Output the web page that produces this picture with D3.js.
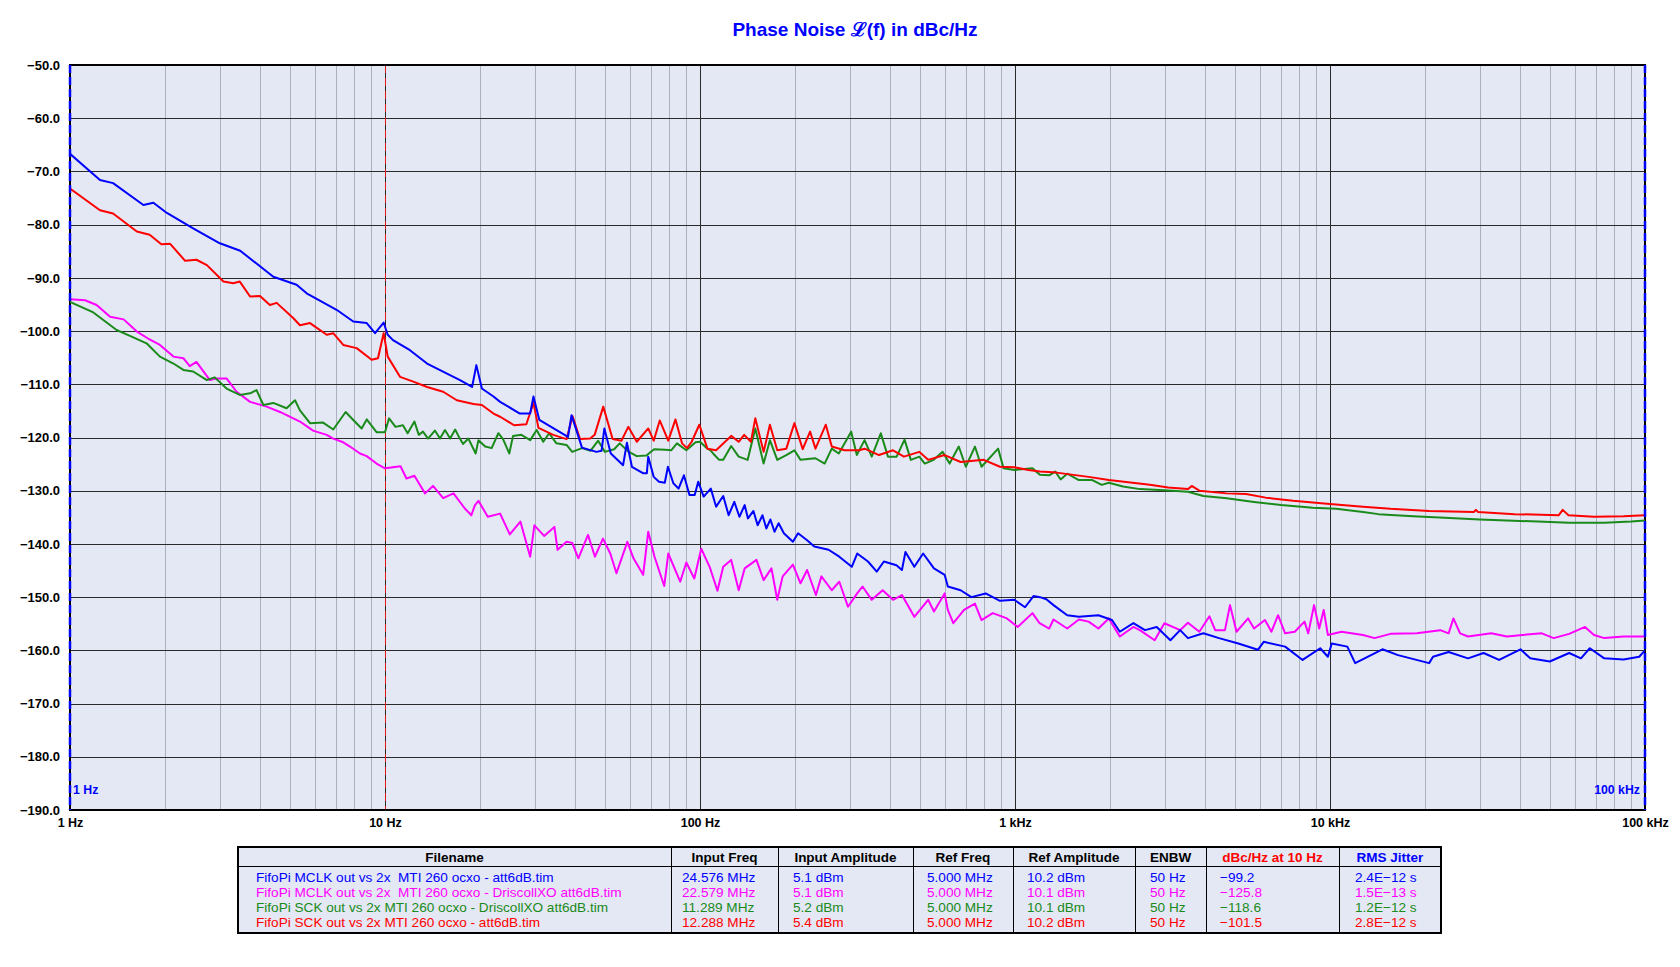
<!DOCTYPE html>
<html><head><meta charset="utf-8">
<script src="https://cdn.jsdelivr.net/npm/d3@7"></script>
<style>
html,body{margin:0;padding:0;background:#fff;}
svg{display:block;font-family:"Liberation Sans",Arial,Helvetica,sans-serif;}
</style></head><body>
<svg id="c" width="1680" height="967"></svg>
<script>
// ---------------- DATA ----------------
const titleText = "Phase Noise \u2112(f) in dBc/Hz";
const yTicks = [-50,-60,-70,-80,-90,-100,-110,-120,-130,-140,-150,-160,-170,-180,-190];
const xTicks = [1,10,100,1000,10000,100000];
const xTickLabels = ["1 Hz","10 Hz","100 Hz","1 kHz","10 kHz","100 kHz"];
const seriesColors = ["#0000ff","#ff00ff","#1a8a1a","#ff0000"];

// [frequency Hz, dBc/Hz]
const mclkAtt = [[1,-66.7],[1.245,-71.6],[1.37,-72.2],[1.71,-76.3],[1.84,-75.9],[2.03,-77.8],[2.46,-80.7],[2.99,-83.5],[3.47,-84.9],[4.42,-89.8],[5.24,-91.3],[5.64,-92.9],[7.02,-96.0],[7.93,-98.2],[8.75,-98.5],[9.3,-100.4],[9.9,-98.4],[10.2,-100.7],[10.6,-101.7],[12.0,-103.6],[13.6,-106.1],[17.3,-109.2],[18.9,-110.5],[19.5,-106.4],[20.3,-110.8],[22.1,-112.3],[23.2,-113.3],[26.8,-115.5],[28.9,-115.5],[29.6,-112.3],[30.9,-116.7],[34.3,-118.3],[38.1,-119.9],[39.1,-115.8],[42.2,-121.9],[46.9,-122.7],[48.7,-122.5],[49.7,-118.3],[52.1,-123.0],[57.0,-125.2],[58.6,-121.0],[60.8,-125.5],[65.9,-126.7],[67.8,-126.7],[68.5,-123.6],[71.3,-127.4],[74.1,-128.3],[77.3,-128.5],[79.1,-125.5],[82.3,-128.6],[85.5,-129.6],[88.9,-127.1],[92.6,-130.8],[96.2,-130.8],[98.7,-128.3],[102.7,-131.1],[108.2,-129.6],[112.5,-133.0],[118.5,-131.0],[123.3,-134.6],[128.5,-132.1],[133.4,-134.9],[138.6,-132.7],[142,-135.2],[147.8,-133.8],[152.4,-136.5],[157.9,-134.6],[162.4,-137.1],[167.3,-135.4],[172.4,-137.7],[177.7,-136.1],[184.6,-138.0],[197.2,-139.6],[204.8,-138.0],[218.8,-139.3],[230.6,-140.5],[256,-141.1],[276.8,-142.4],[303.3,-144.3],[315.5,-141.8],[341.4,-143.3],[364,-145.2],[383.5,-143.3],[420.4,-144.0],[437.6,-144.9],[449,-141.5],[479,-144.3],[511,-141.8],[553,-144.6],[598,-145.8],[612,-148.0],[672,-148.7],[727,-150.0],[807,-149.3],[896,-150.7],[995,-150.5],[1076,-151.9],[1145,-149.8],[1200,-150.0],[1258,-150.4],[1325,-151.5],[1465,-153.4],[1595,-153.7],[1840,-153.4],[2032,-154.3],[2151,-156.5],[2376,-154.9],[2586,-156.2],[2818,-155.6],[3114,-158.1],[3344,-156.2],[3540,-157.7],[3963,-156.8],[4443,-157.7],[5117,-158.7],[5902,-159.9],[6160,-158.4],[7203,-159.3],[8184,-161.8],[9311,-159.6],[9846,-161.2],[10130,-158.7],[11350,-159.3],[12020,-162.4],[14670,-159.8],[16440,-160.9],[20640,-162.4],[21230,-161.2],[23800,-160.3],[27420,-161.5],[30730,-160.5],[34420,-161.8],[40250,-159.8],[43230,-161.5],[49840,-162.1],[57450,-160.5],[62600,-161.5],[66800,-159.6],[74240,-161.5],[85520,-161.7],[95860,-161.2],[100000,-160.0]];

const mclkDriscoll = [[1,-94.0],[1.116,-94.2],[1.215,-95.1],[1.34,-97.3],[1.48,-97.8],[1.63,-100.1],[1.77,-101.4],[1.93,-102.6],[2.13,-104.8],[2.29,-105.1],[2.40,-106.6],[2.52,-105.8],[2.78,-109.2],[2.92,-108.9],[3.14,-108.9],[3.38,-111.4],[3.73,-113.3],[4.21,-114.2],[4.64,-115.2],[5.37,-117.0],[5.91,-118.7],[6.53,-119.5],[6.85,-120.2],[7.37,-120.9],[7.74,-121.7],[8.33,-123.0],[8.75,-123.5],[9.4,-124.9],[10.0,-125.8],[10.6,-125.6],[11.2,-125.4],[11.7,-127.7],[12.4,-127.2],[13.4,-130.5],[14.2,-129.1],[15.3,-131.4],[16.5,-130.5],[17.9,-133.3],[18.8,-134.6],[19.3,-132.7],[19.8,-131.9],[21.2,-134.9],[23.2,-134.3],[24.9,-138.2],[26.9,-135.8],[28.9,-142.4],[29.8,-136.5],[32.0,-138.5],[34.5,-136.8],[35.3,-141.1],[37.7,-139.6],[39.3,-139.8],[41.1,-142.7],[44.1,-138.3],[46.4,-142.4],[49.2,-139.0],[51.9,-141.8],[54.3,-145.5],[58.8,-139.6],[61.5,-142.7],[66.0,-145.8],[68.5,-137.7],[71.7,-142.4],[77.0,-147.9],[79.3,-141.8],[86.5,-147.1],[90.5,-143.5],[95.9,-146.5],[100.9,-140.9],[107.3,-144.3],[113.6,-148.8],[118.5,-144.3],[125.6,-143.0],[132.7,-148.7],[138.6,-144.6],[151.1,-143.0],[159.2,-146.8],[168.6,-144.6],[175.9,-150.5],[183,-146.1],[197.2,-143.9],[208.5,-147.4],[218.8,-144.9],[233.3,-149.6],[242.9,-146.1],[262,-148.7],[276.8,-147.1],[295,-151.8],[315.5,-149.3],[328,-148.0],[351,-150.5],[380,-148.7],[410,-150.5],[437.6,-149.6],[479,-153.7],[530,-150.5],[553,-152.7],[598,-149.3],[612,-152.4],[637,-154.9],[689,-152.4],[746,-151.2],[783,-154.3],[850,-153.0],[943,-154.0],[1020,-155.6],[1136,-153.0],[1197,-154.9],[1284,-155.9],[1325,-154.2],[1465,-155.9],[1595,-154.2],[1713,-154.6],[1840,-155.9],[1985,-154.0],[2151,-157.4],[2376,-155.6],[2492,-156.2],[2776,-158.1],[2980,-154.9],[3344,-156.2],[3540,-154.8],[3848,-156.5],[4143,-153.6],[4320,-156.2],[4640,-156.2],[4815,-151.5],[5050,-156.5],[5495,-154.0],[5740,-155.9],[6215,-154.3],[6520,-156.5],[6840,-153.4],[7203,-156.8],[7730,-156.5],[8300,-154.6],[8530,-156.8],[8900,-151.5],[9240,-155.9],[9550,-152.4],[9846,-157.1],[10880,-156.5],[12730,-157.1],[13850,-157.7],[15550,-156.9],[18860,-156.8],[22390,-156.2],[23800,-156.8],[24650,-154.0],[25880,-156.8],[27420,-157.4],[32490,-156.8],[36450,-157.4],[40870,-157.1],[47050,-156.8],[51300,-157.7],[57450,-156.9],[64500,-155.6],[68900,-157.1],[74240,-157.7],[85520,-157.4],[100000,-157.4]];

const sckDriscoll = [[1,-94.5],[1.186,-96.5],[1.406,-99.8],[1.55,-100.9],[1.75,-102.3],[1.93,-104.8],[2.13,-106.1],[2.29,-107.3],[2.46,-107.6],[2.72,-109.2],[2.88,-108.7],[3.14,-110.8],[3.46,-112.0],[3.73,-111.7],[3.91,-111.1],[4.11,-113.9],[4.42,-113.5],[4.87,-114.5],[5.18,-113.0],[5.37,-114.9],[5.78,-117.3],[6.36,-117.2],[6.85,-118.5],[7.5,-115.2],[7.93,-116.7],[8.43,-118.3],[8.75,-116.6],[9.4,-119.0],[10.0,-119.0],[10.3,-116.4],[10.8,-118.0],[11.4,-117.7],[11.8,-119.2],[12.4,-117.0],[12.8,-119.5],[13.2,-118.9],[13.7,-120.2],[14.4,-118.7],[14.95,-120.2],[15.5,-118.6],[16.1,-120.2],[16.7,-118.5],[17.1,-119.7],[17.7,-121.2],[18.4,-120.2],[19.4,-123.0],[19.8,-120.5],[20.8,-121.7],[21.8,-122.0],[22.9,-119.2],[23.7,-120.3],[24.8,-123.0],[25.5,-119.7],[27.1,-119.5],[28.9,-120.5],[30.3,-118.6],[31.8,-120.8],[33.2,-119.2],[35.0,-121.1],[37.7,-121.4],[39.3,-122.7],[42.2,-122.0],[44.9,-122.5],[47.5,-120.6],[49.9,-122.7],[53.4,-122.2],[55.6,-121.1],[59.1,-122.6],[63.0,-123.5],[67.6,-123.4],[71.5,-122.2],[77.5,-122.3],[81,-122.4],[84.5,-121.1],[90.5,-122.4],[96.8,-120.9],[100,-120.8],[105.6,-122.1],[108,-122.4],[111.2,-123.3],[115,-124.2],[118.5,-124.2],[125.6,-121.6],[132.7,-123.6],[141.7,-124.2],[149.8,-118.3],[159.2,-124.9],[166.7,-120.5],[175.9,-124.2],[187.9,-123.3],[199.4,-122.4],[208.5,-124.2],[232.6,-123.9],[248.7,-124.9],[262,-122.1],[275.8,-123.0],[302,-118.9],[314.6,-123.3],[333,-120.5],[351,-123.6],[375,-119.2],[395,-123.6],[421,-123.6],[446,-120.4],[467,-124.2],[497,-123.6],[517,-124.9],[552,-124.2],[589,-122.7],[620,-124.9],[663,-121.7],[698,-125.5],[746,-121.7],[783,-125.5],[884,-122.1],[920,-125.8],[995,-126.1],[1136,-125.8],[1200,-127.0],[1284,-127.1],[1342,-126.4],[1396,-127.9],[1465,-126.8],[1595,-128.0],[1760,-128.0],[1885,-128.9],[1985,-128.5],[2202,-129.2],[2492,-129.7],[2980,-129.9],[3540,-130.2],[3963,-131.0],[4700,-131.4],[5740,-132.1],[7000,-132.7],[8820,-133.2],[10460,-133.4],[12730,-134.0],[14250,-134.4],[18350,-134.8],[23140,-135.1],[29850,-135.4],[36450,-135.6],[45770,-135.8],[57450,-136.0],[74240,-136.0],[90350,-135.8],[100000,-135.6]];

const sckAtt = [[1,-73.2],[1.245,-77.3],[1.37,-77.9],[1.63,-81.3],[1.79,-81.9],[1.95,-83.7],[2.08,-83.6],[2.32,-86.8],[2.52,-86.6],[2.72,-87.6],[3.07,-90.7],[3.30,-91.0],[3.46,-90.7],[3.73,-93.5],[4.01,-93.4],[4.31,-95.1],[4.53,-94.7],[5.12,-97.6],[5.37,-98.9],[5.78,-98.5],[6.53,-100.7],[6.85,-100.4],[7.37,-102.6],[8.13,-103.2],[9.07,-105.4],[9.5,-105.1],[9.9,-100.4],[10.2,-104.8],[11.16,-108.6],[12.3,-109.5],[13.6,-110.5],[15.3,-111.4],[16.9,-113.0],[19.1,-113.7],[20.3,-113.9],[22.1,-115.5],[23.2,-116.1],[25.7,-117.7],[28.1,-117.5],[29.6,-113.5],[30.7,-118.2],[34.2,-119.5],[37.7,-120.3],[39.4,-116.0],[41.6,-120.3],[44.8,-120.2],[46.3,-119.5],[49.3,-114.2],[52.8,-120.3],[56.3,-120.6],[59.2,-118.0],[63.0,-120.8],[68.5,-118.3],[71.3,-120.6],[74.5,-116.8],[79.3,-120.6],[83.6,-116.6],[87.7,-121.1],[90.9,-122.0],[94.1,-120.8],[99.5,-117.6],[105.6,-122.1],[112.5,-122.4],[125.6,-119.7],[132.7,-120.8],[138.1,-119.5],[145.1,-120.8],[149.8,-116.4],[159.2,-122.7],[166.7,-117.6],[175.9,-122.4],[187.9,-122.1],[199.4,-117.3],[211.9,-122.2],[223.6,-118.9],[232.6,-122.1],[250.8,-117.6],[262,-121.7],[287.6,-122.4],[320,-122.4],[333,-122.1],[370,-123.3],[410,-122.4],[444,-123.6],[497,-122.7],[530,-124.2],[598,-123.3],[672,-124.6],[796,-124.2],[896,-125.5],[995,-125.6],[1104,-126.1],[1200,-126.4],[1355,-126.6],[1713,-127.4],[1985,-128.0],[2680,-128.9],[3066,-129.4],[3540,-129.7],[3640,-129.1],[3848,-130.0],[4700,-130.5],[5414,-130.6],[6250,-131.3],[7636,-131.9],[9990,-132.5],[12730,-133.0],[15550,-133.4],[20640,-133.8],[28620,-134.0],[29050,-133.6],[29500,-134.0],[38570,-134.4],[53260,-134.6],[54800,-133.6],[57150,-134.6],[68900,-134.9],[85520,-134.8],[100000,-134.6]];

const tableHeaders = ["Filename","Input Freq","Input Amplitude","Ref Freq","Ref Amplitude","ENBW","dBc/Hz at 10 Hz","RMS Jitter"];
const tableRows = [
  ["FifoPi MCLK out vs 2x\u00a0 MTI 260 ocxo - att6dB.tim","24.576 MHz","5.1 dBm","5.000 MHz","10.2 dBm","50 Hz","\u221299.2","2.4E\u221212 s"],
  ["FifoPi MCLK out vs 2x\u00a0 MTI 260 ocxo - DriscollXO att6dB.tim","22.579 MHz","5.1 dBm","5.000 MHz","10.1 dBm","50 Hz","\u2212125.8","1.5E\u221213 s"],
  ["FifoPi SCK out vs 2x MTI 260 ocxo - DriscollXO att6dB.tim","11.289 MHz","5.2 dBm","5.000 MHz","10.1 dBm","50 Hz","\u2212118.6","1.2E\u221212 s"],
  ["FifoPi SCK out vs 2x MTI 260 ocxo - att6dB.tim","12.288 MHz","5.4 dBm","5.000 MHz","10.2 dBm","50 Hz","\u2212101.5","2.8E\u221212 s"]
];

// ---------------- LAYOUT ----------------
const svg = d3.select("#c");
const P = {l:70, r:1645, t:65, b:810};
const bg = "#e3e8f4";
const x = d3.scaleLog().domain([1,100000]).range([P.l,P.r]);
const y = d3.scaleLinear().domain([-50,-190]).range([P.t,P.b]);

svg.append("text").attr("x",855).attr("y",29).attr("text-anchor","middle")
  .attr("dominant-baseline","central").attr("fill","#0000ff")
  .attr("font-size",19).attr("font-weight","bold").text(titleText);

svg.append("rect").attr("x",P.l).attr("y",P.t).attr("width",P.r-P.l).attr("height",P.b-P.t).attr("fill",bg);

// minor vertical grid
const minor = [];
for (let d=1; d<100000; d*=10) for (let k=2;k<=9;k++) minor.push(d*k);
svg.append("g").selectAll("line").data(minor).join("line")
  .attr("x1",d=>Math.round(x(d))+0.5).attr("x2",d=>Math.round(x(d))+0.5)
  .attr("y1",P.t).attr("y2",P.b).attr("stroke","#a9b1c1").attr("stroke-width",1);
// major vertical grid
svg.append("g").selectAll("line").data(xTicks.slice(1,-1)).join("line")
  .attr("x1",d=>Math.round(x(d))+0.5).attr("x2",d=>Math.round(x(d))+0.5)
  .attr("y1",P.t).attr("y2",P.b).attr("stroke","#2a2a2a").attr("stroke-width",1);
// horizontal grid
svg.append("g").selectAll("line").data(yTicks.slice(1,-1)).join("line")
  .attr("x1",P.l).attr("x2",P.r)
  .attr("y1",d=>Math.round(y(d))+0.5).attr("y2",d=>Math.round(y(d))+0.5)
  .attr("stroke","#2a2a2a").attr("stroke-width",1);

// red dashed 10 Hz marker
svg.append("line").attr("x1",Math.round(x(10))+0.5).attr("x2",Math.round(x(10))+0.5).attr("y1",P.t).attr("y2",P.b)
  .attr("stroke","#e01818").attr("stroke-width",1).attr("stroke-dasharray","8,5");

// border
svg.append("rect").attr("x",P.l).attr("y",P.t).attr("width",P.r-P.l).attr("height",P.b-P.t)
  .attr("fill","none").attr("stroke","#000").attr("stroke-width",2);

// data lines
svg.append("clipPath").attr("id","clp").append("rect")
  .attr("x",P.l).attr("y",P.t).attr("width",P.r-P.l).attr("height",P.b-P.t);
const line = d3.line().x(d=>x(d[0])).y(d=>y(d[1]));
const allSeries = [mclkAtt, mclkDriscoll, sckDriscoll, sckAtt];
const drawOrder = [1,2,3,0];
const gl = svg.append("g").attr("clip-path","url(#clp)");
drawOrder.forEach(i=>{
  gl.append("path").datum(allSeries[i]).attr("d",line).attr("fill","none")
    .attr("stroke",seriesColors[i]).attr("stroke-width",2).attr("stroke-linejoin","round");
});

// blue cursor lines at the ends
[1,100000].forEach(f=>{
  svg.append("line").attr("x1",x(f)).attr("x2",x(f)).attr("y1",P.t).attr("y2",P.b)
    .attr("stroke","#0000ff").attr("stroke-width",2.5).attr("stroke-dasharray","8,4");
});
svg.append("text").attr("x",P.l+3).attr("y",790).attr("dominant-baseline","central")
  .attr("fill","#0000ff").attr("font-size",12.3).attr("font-weight","bold").text("1 Hz");
svg.append("text").attr("x",P.r-5).attr("y",790).attr("text-anchor","end").attr("dominant-baseline","central")
  .attr("fill","#0000ff").attr("font-size",12.3).attr("font-weight","bold").text("100 kHz");

// axes labels
const yAxis = d3.axisLeft(y).tickValues(yTicks).tickSize(0).tickPadding(10)
  .tickFormat(d=>d3.format(".1f")(d).replace("-","\u2212"));
const ga = svg.append("g").attr("transform",`translate(${P.l},0)`).call(yAxis);
ga.select(".domain").remove();
ga.selectAll("text").attr("font-size",13).attr("font-weight","bold").attr("fill","#000")
  .attr("font-family","'Liberation Sans',Arial,sans-serif");
const xAxis = d3.axisBottom(x).tickValues(xTicks).tickSize(0).tickPadding(8)
  .tickFormat((d,i)=>xTickLabels[i]);
const gx = svg.append("g").attr("transform",`translate(0,${P.b})`).call(xAxis);
gx.select(".domain").remove();
gx.selectAll("text").attr("font-size",12.5).attr("font-weight","bold").attr("fill","#000")
  .attr("font-family","'Liberation Sans',Arial,sans-serif");

// ---------------- TABLE ----------------
const colX = [238,671,778,913,1013,1135,1206,1339,1441];
const colPad = [18,11,15,14,14,15,14,16];
const T = {t:847, h:866, b:933};
const rowY = [877,892,907.5,922];
const tg = svg.append("g");
tg.append("rect").attr("x",colX[0]).attr("y",T.t).attr("width",colX[8]-colX[0]).attr("height",T.b-T.t)
  .attr("fill",bg);
tg.append("line").attr("x1",colX[0]).attr("x2",colX[8]).attr("y1",T.h+0.5).attr("y2",T.h+0.5).attr("stroke","#000");
tg.selectAll("line.c").data(colX.slice(1,-1)).join("line").attr("class","c")
  .attr("x1",d=>d+0.5).attr("x2",d=>d+0.5).attr("y1",T.t).attr("y2",T.b).attr("stroke","#000");
tg.append("rect").attr("x",colX[0]).attr("y",T.t).attr("width",colX[8]-colX[0]).attr("height",T.b-T.t)
  .attr("fill","none").attr("stroke","#000").attr("stroke-width",2);
const headColors = ["#000","#000","#000","#000","#000","#000","#ff0000","#0000ff"];
tableHeaders.forEach((h,i)=>{
  tg.append("text").attr("x",(colX[i]+colX[i+1])/2).attr("y",T.t+10).attr("text-anchor","middle")
    .attr("dominant-baseline","central").attr("font-size",13.5).attr("font-weight","bold")
    .attr("fill",headColors[i]).text(h);
});
tableRows.forEach((row,r)=>{
  row.forEach((v,i)=>{
    tg.append("text").attr("x",colX[i]+colPad[i]).attr("y",rowY[r]).attr("dominant-baseline","central")
      .attr("font-size",13.6).attr("fill",seriesColors[r]).text(v);
  });
});
</script>
</body></html>
